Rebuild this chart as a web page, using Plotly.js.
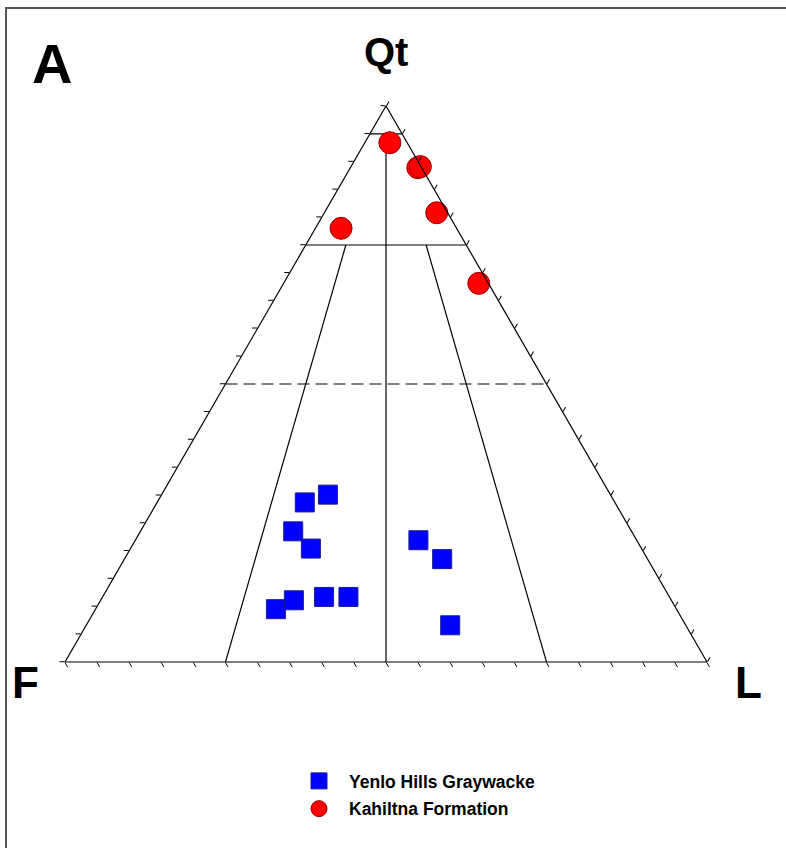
<!DOCTYPE html>
<html>
<head>
<meta charset="utf-8">
<script src="https://cdn.plot.ly/plotly-3.0.1.min.js"></script>
<style>html,body{margin:0;padding:0;background:#fff;}#chart{width:786px;height:848px;}</style>
</head>
<body>
<div id="chart"></div>
<script>
// Yenlo Hills Graywacke (percent Qt, F, L)
var yenloQt = [28.7, 30.1, 23.5, 20.4, 9.5, 11.1, 11.7, 11.7, 21.9, 18.5, 6.6];
var yenloF  = [48.3, 44.0, 52.7, 51.5, 62.4, 58.8, 53.8, 50.0, 34.0, 32.0, 36.7];
var yenloL  = [23.0, 25.9, 23.8, 28.1, 28.1, 30.1, 34.5, 38.3, 44.1, 49.5, 56.7];

// Kahiltna Formation (percent Qt, F, L)
var kahQt = [93.4, 88.9, 89.1, 80.8, 78.0, 68.1];
var kahF  = [2.7, 0.6, 0.1, 1.7, 18.0, 1.5];
var kahL  = [3.9, 10.5, 10.8, 17.5, 4.0, 30.4];

// Classification field boundaries (percent Qt, F, L at each end)
var qt95Line = {qt: [95, 95], f: [5, 0], l: [0, 5]};
var qt75Line = {qt: [75, 75], f: [25, 0], l: [0, 25]};
var qt50Line = {qt: [50, 50], f: [50, 0], l: [0, 50]};
var fl25Line = {qt: [0, 75], f: [75, 18.75], l: [25, 6.25]};
var fl50Line = {qt: [0, 95], f: [50, 2.5], l: [50, 2.5]};
var fl75Line = {qt: [0, 75], f: [25, 6.25], l: [75, 18.75]};

var seriesNames = ['Yenlo Hills Graywacke', 'Kahiltna Formation'];
var apexLabels = ['Qt', 'F', 'L'];
var panelLabel = 'A';

function boundary(ln, dash) {
  return {
    type: 'scatterternary', mode: 'lines',
    a: ln.qt, b: ln.f, c: ln.l,
    line: {color: '#000', width: 1.2, dash: dash || 'solid'},
    showlegend: false, hoverinfo: 'skip'
  };
}

var traces = [
  boundary(qt95Line), boundary(qt75Line), boundary(qt50Line, '12px,6px'),
  boundary(fl25Line), boundary(fl50Line), boundary(fl75Line),
  {
    type: 'scatterternary', mode: 'markers', name: seriesNames[0],
    a: yenloQt, b: yenloF, c: yenloL, cliponaxis: false,
    marker: {symbol: 'square', size: 19, color: '#0000FF', line: {color: '#1a1a9a', width: 1}},
    legendgroup: 'g1'
  },
  {
    type: 'scatterternary', mode: 'markers', name: seriesNames[1],
    a: kahQt, b: kahF, c: kahL, cliponaxis: false,
    marker: {symbol: 'circle', size: 22, color: '#FF0000', line: {color: '#9a0000', width: 1}},
    legendgroup: 'g2'
  }
];

var axisCommon = {
  showgrid: false, showticklabels: false, ticks: 'outside', ticklen: 5,
  tickcolor: '#000', tickwidth: 1, dtick: 5, linecolor: '#000', linewidth: 1.2,
  title: {text: ''}
};

var FONT = 'Liberation Sans, Arial, sans-serif';

var layout = {
  width: 786, height: 848,
  margin: {l: 0, r: 0, t: 0, b: 0},
  paper_bgcolor: '#fff',
  showlegend: true,
  legend: {
    x: 289/786, y: (848-763)/848, xanchor: 'left', yanchor: 'top',
    font: {family: FONT, size: 17.5, color: '#000', weight: 'bold'},
    itemwidth: 50,
    tracegroupgap: 2, bgcolor: 'rgba(0,0,0,0)'
  },
  ternary: {
    sum: 100,
    domain: {x: [65/786, 707/786], y: [(848-663)/848, (848-105)/848]},
    bgcolor: '#fff',
    aaxis: axisCommon, baxis: axisCommon, caxis: axisCommon
  },
  shapes: [{
    type: 'rect', xref: 'paper', yref: 'paper',
    x0: 6/786, x1: 1.05, y0: -0.05, y1: (848-8)/848,
    line: {color: '#555', width: 2}, fillcolor: 'rgba(0,0,0,0)'
  }],
  annotations: [
    {text: panelLabel, x: 52/786, y: (848-64)/848, xref: 'paper', yref: 'paper', showarrow: false,
     xanchor: 'center', yanchor: 'middle',
     font: {family: FONT, size: 56, color: '#000', weight: 'bold'}},
    {text: apexLabels[0], x: 386/786, y: (848-52)/848, xref: 'paper', yref: 'paper', showarrow: false,
     xanchor: 'center', yanchor: 'middle',
     font: {family: FONT, size: 40, color: '#000', weight: 'bold'}},
    {text: apexLabels[1], x: 26/786, y: (848-682)/848, xref: 'paper', yref: 'paper', showarrow: false,
     xanchor: 'center', yanchor: 'middle',
     font: {family: FONT, size: 44, color: '#000', weight: 'bold'}},
    {text: apexLabels[2], x: 748/786, y: (848-682)/848, xref: 'paper', yref: 'paper', showarrow: false,
     xanchor: 'center', yanchor: 'middle',
     font: {family: FONT, size: 44, color: '#000', weight: 'bold'}}
  ]
};

Plotly.newPlot('chart', traces, layout, {displayModeBar: false, staticPlot: true});
</script>
</body>
</html>
